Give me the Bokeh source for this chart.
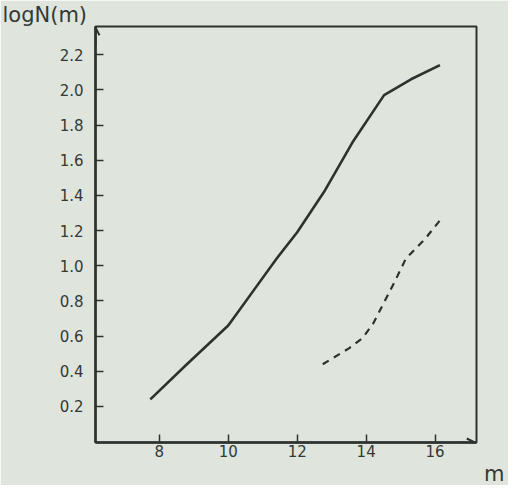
from bokeh.plotting import figure
from bokeh.models import Title, Range1d, FixedTicker, Arrow, OpenHead
from bokeh.embed import file_html
from bokeh.resources import INLINE

# solid curve
m_solid = [7.74, 8.8, 10.0, 11.4, 12.0, 12.78, 13.6, 14.52, 15.3, 16.14]
logN_solid = [0.24, 0.44, 0.66, 1.04, 1.19, 1.42, 1.70, 1.97, 2.06, 2.14]
# dashed curve
m_dash = [12.74, 13.5, 13.9, 14.2, 14.83, 15.15, 15.7, 16.23]
logN_dash = [0.44, 0.53, 0.59, 0.67, 0.91, 1.04, 1.15, 1.28]

x_ticks = [8, 10, 12, 14, 16]
y_ticks = [0.2, 0.4, 0.6, 0.8, 1.0, 1.2, 1.4, 1.6, 1.8, 2.0, 2.2]
y_tick_labels = ["0.2", "0.4", "0.6", "0.8", "1.0", "1.2", "1.4", "1.6", "1.8", "2.0", "2.2"]

ink = "#2c322e"
bg = "#dfe4dc"
txt = "#333a35"
font = "DejaVu Sans"

p = figure(width=508, height=485, output_backend="svg", toolbar_location=None,
           x_range=Range1d(6.15, 17.2), y_range=Range1d(-0.005, 2.36),
           min_border_left=95, min_border_top=0, min_border_right=32, min_border_bottom=0)
p.background_fill_color = bg
p.border_fill_color = bg
p.outline_line_color = ink
p.outline_line_width = 2
p.grid.visible = False

for ax in (p.xaxis[0], p.yaxis[0]):
    ax.axis_line_color = ink
    ax.axis_line_width = 2.5
    ax.major_tick_line_color = ink
    ax.major_tick_line_width = 1.5
    ax.major_tick_in = 8
    ax.major_tick_out = 0
    ax.minor_tick_line_color = None
    ax.major_label_text_color = txt
    ax.major_label_text_font = font
    ax.major_label_text_font_size = "15px"

p.xaxis.ticker = FixedTicker(ticks=x_ticks)
p.yaxis.ticker = FixedTicker(ticks=y_ticks)
p.yaxis.major_label_overrides = {t: l for t, l in zip(y_ticks, y_tick_labels)}
p.yaxis.major_label_standoff = 12
p.xaxis.major_label_standoff = 2

p.line(m_solid, logN_solid, line_color=ink, line_width=2.6)
p.line(m_dash, logN_dash, line_color=ink, line_width=2.2, line_dash="7 6")

p.add_layout(Title(text="logN(m)", align="left", offset=-93, standoff=0,
                   text_font=font, text_font_size="21px", text_font_style="normal",
                   text_color=txt), "above")
p.add_layout(Title(text="m", align="right", offset=-28, standoff=0,
                   text_font=font, text_font_size="21px", text_font_style="normal",
                   text_color=txt), "below")

p.add_layout(Arrow(end=OpenHead(size=8, line_color=ink, line_width=2), x_start=6.15, y_start=2.25,
                   x_end=6.15, y_end=2.355, line_color=ink, line_width=2))
p.add_layout(Arrow(end=OpenHead(size=8, line_color=ink, line_width=2), x_start=16.7, y_start=-0.005,
                   x_end=17.15, y_end=-0.005, line_color=ink, line_width=2))

open("out.html", "w").write(file_html(p, INLINE))
